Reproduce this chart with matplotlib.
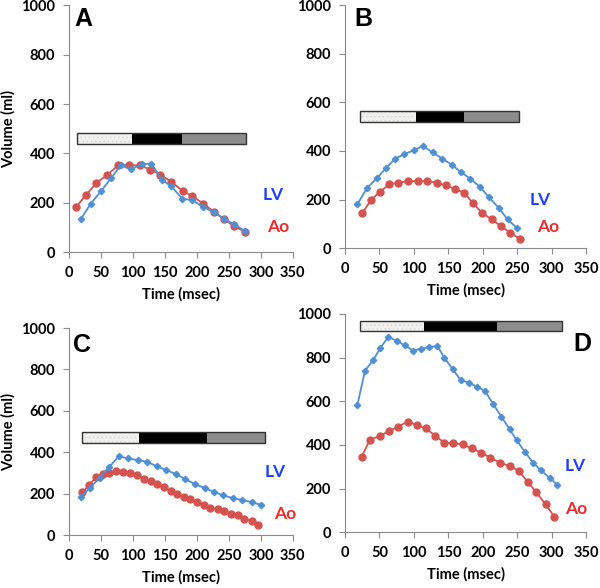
import matplotlib.pyplot as plt

plt.rcParams['font.family'] = ['Lato', 'DejaVu Sans']
plt.rcParams['font.weight'] = 'bold'
plt.rcParams['hatch.linewidth'] = 0.6

# panel A
a_lv_t = [19, 34, 50, 66, 81, 97, 114, 129, 145, 160, 177, 193, 209, 226, 242, 258, 276]
a_lv_v = [136, 197, 247, 301, 352, 336, 356, 359, 294, 267, 217, 211, 185, 162, 136, 113, 85]
a_ao_t = [11, 27, 43, 60, 77, 94, 111, 127, 143, 160, 178, 193, 210, 227, 243, 258, 276]
a_ao_v = [183, 233, 281, 314, 352, 352, 352, 335, 314, 285, 248, 227, 197, 163, 134, 105, 82]
a_phase = [13, 99, 177, 277]

# panel B
b_lv_t = [18, 32, 46, 59, 73, 86, 100, 113, 127, 141, 155, 168, 182, 196, 209, 223, 236, 249]
b_lv_v = [181, 248, 287, 328, 369, 387, 403, 421, 394, 369, 343, 314, 285, 252, 209, 166, 118, 84]
b_ao_t = [25, 38, 51, 64, 77, 92, 106, 119, 133, 146, 160, 173, 186, 199, 213, 226, 240, 254]
b_ao_v = [143, 200, 232, 263, 269, 276, 276, 276, 269, 259, 243, 228, 184, 145, 118, 91, 63, 38]
b_phase = [22, 103, 173, 252]

# panel C
c_lv_t = [18, 33, 48, 63, 78, 93, 108, 122, 137, 152, 167, 182, 197, 212, 227, 241, 256, 271, 286, 300]
c_lv_v = [185, 228, 278, 330, 380, 370, 362, 354, 333, 314, 295, 270, 246, 227, 208, 192, 179, 169, 159, 146]
c_ao_t = [21, 32, 42, 53, 63, 74, 85, 95, 106, 117, 128, 138, 148, 159, 169, 180, 190, 200,
          211, 221, 233, 243, 254, 264, 274, 286, 296]
c_ao_v = [209, 241, 282, 295, 301, 312, 306, 298, 288, 272, 261, 246, 230, 214, 200, 185, 172, 159,
          145, 132, 124, 114, 101, 95, 79, 68, 47]
c_phase = [21, 110, 216, 306]

# panel D
d_lv_t = [18, 29, 41, 51, 63, 75, 87, 99, 110, 122, 134, 144, 156, 168, 180, 191, 203, 215, 227,
          239, 249, 261, 273, 284, 297, 308]
d_lv_v = [583, 740, 789, 843, 896, 876, 856, 832, 841, 847, 854, 800, 748, 697, 685, 667, 648, 587,
          529, 471, 422, 368, 318, 284, 249, 217]
d_ao_t = [24, 36, 51, 64, 77, 91, 104, 117, 131, 144, 157, 171, 184, 198, 211, 225, 239, 252, 265,
          277, 291, 304]
d_ao_v = [345, 422, 442, 463, 484, 506, 491, 476, 442, 410, 407, 402, 384, 364, 341, 318, 303, 281,
          231, 185, 128, 70]
d_phase = [22, 114, 220, 315]

panels = [
    # rect, letter, letter pos, LV pos, Ao pos, bar centre, bar height, ylabel
    ([0.115, 0.571, 0.373, 0.420], 'A', (22, 946), (319, 230), (327, 101), 462, 45, True,
     a_lv_t, a_lv_v, a_ao_t, a_ao_v, a_phase),
    ([0.575, 0.578, 0.402, 0.413], 'B', (27, 945), (283, 199), (295, 89), 541, 45, False,
     b_lv_t, b_lv_v, b_ao_t, b_ao_v, b_phase),
    ([0.115, 0.090, 0.373, 0.352], 'C', (20, 916), (323, 305), (338, 100), 470, 53, True,
     c_lv_t, c_lv_v, c_ao_t, c_ao_v, c_phase),
    ([0.575, 0.095, 0.402, 0.371], 'D', (344, 862), (334, 301), (336, 107), 947, 46, False,
     d_lv_t, d_lv_v, d_ao_t, d_ao_v, d_phase),
]

fig = plt.figure(figsize=(6, 5.88), dpi=100)

for (rect, letter, lpos, lvpos, aopos, bar_y, bar_h, ylab,
     lv_t, lv_v, ao_t, ao_v, phase) in panels:
    ax = fig.add_axes(rect)
    ax.plot(lv_t, lv_v, '-D', color='#4F8FD3', markersize=3.2, linewidth=1.3, zorder=3)
    ax.plot(ao_t, ao_v, '-o', color='#D5534F', markersize=5, linewidth=1.3, zorder=2)

    # phase bar
    ax.barh(bar_y, phase[1] - phase[0], left=phase[0], height=bar_h,
            color='#f0f0ee', edgecolor='#d6d6d6', hatch='....', linewidth=0)
    ax.barh(bar_y, phase[2] - phase[1], left=phase[1], height=bar_h, color='black', linewidth=0)
    ax.barh(bar_y, phase[3] - phase[2], left=phase[2], height=bar_h, color='#8c8c8c', linewidth=0)
    ax.barh(bar_y, phase[3] - phase[0], left=phase[0], height=bar_h,
            fill=False, edgecolor='#333333', linewidth=1)

    ax.set_xlim(0, 350)
    ax.set_ylim(0, 1000)
    ax.set_xticks(range(0, 351, 50))
    ax.set_yticks(range(0, 1001, 200))
    for s in ['top', 'right']:
        ax.spines[s].set_visible(False)
    for s in ['left', 'bottom']:
        ax.spines[s].set_color('#8a8a8a')
    ax.tick_params(colors='#8a8a8a', labelcolor='black', labelsize=10.5, length=4, pad=6)
    for lab in ax.get_xticklabels() + ax.get_yticklabels():
        lab.set_fontweight('bold')
    ax.set_xlabel('Time (msec)', fontsize=10.5, fontweight='bold', labelpad=5)
    if ylab:
        ax.set_ylabel('Volume (ml)', fontsize=10.5, fontweight='bold', labelpad=4)

    ax.text(lpos[0], lpos[1], letter, fontsize=18, fontweight='bold',
            family='Liberation Sans', ha='center', va='center')
    ax.text(lvpos[0], lvpos[1], 'LV', color='#1f3fff', fontsize=12.5, fontweight='bold',
            ha='center', va='center')
    ax.text(aopos[0], aopos[1], 'Ao', color='#f02a2a', fontsize=12.5, fontweight='bold',
            ha='center', va='center', clip_on=False)

plt.savefig('out.png', dpi=100)
